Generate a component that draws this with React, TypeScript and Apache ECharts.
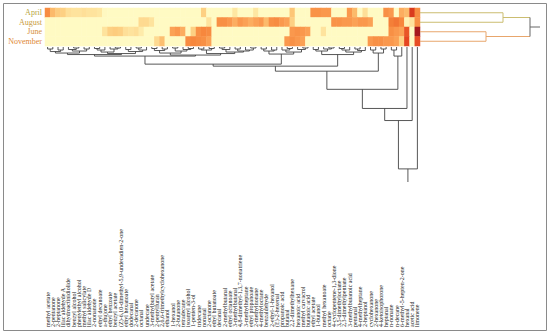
import React, { useEffect, useRef } from 'react';
import * as echarts from 'echarts';

const months = ['April', 'August', 'June', 'November'];
const monthColors = ['#b8a640', '#c99c3e', '#d6913a', '#e08836'];

const compounds = [
  'methyl acetate', '2-pentanone', '2-heptanone', 'lilac aldehyde A', 'dihydroactinidiolide',
  'benzyl alcohol', 'phenylethyl alcohol', 'methyl salicylate', 'lilac aldehyde D', '2-nonanone',
  'ethyl decanoate', 'a-thujone', 'ethyl benzoate', 'benzyl acetate', '(Z)-6,10-dimethyl-5,9-undecadien-2-one',
  'ethyl hexanoate', 'dodecanal', '2-decanone', 'octanal', 'undecane',
  '3-methylbutyl acetate', '2-pentylfuran', '2,6,6-trimethylcyclohexanone', 'ethanol', '1-hexanol',
  '2-butanone', 'tetradecane', 'isoamyl alcohol', '1-penten-3-ol', 'tridecane',
  'nonanal', '2-octanone', 'ethyl butanoate', 'decanal', '2-methylbutanal',
  'ethyl octanoate', '3-methylbutanal', '4,8-dimethyl-1,3,7-nonatriene', '3-methylheptane', 'ethyl propanoate',
  '2-methylnonane', '4-methyloctane', 'benzaldehyde', '2-ethyl-1-hexanol', '(E)-2-hexenal',
  'propanoic acid', 'butanal', '2,2-dimethylhexane', 'hexanoic acid', 'methyl carvacrol',
  'butanoic acid', 'ethyl acetate', '1-butanol', 'methyl hexanoate', 'octane',
  '4-cyclopentene-1,3-dione', '3,5-dimethyloctane', '2,3-dimethylpentane', '3-methylbutanoic acid', 'pentanal',
  '4-methylheptane', '2-heptanol', 'cyclohexanone', '2-hexanone', '4-ketoisophorone',
  'heptanal', 'n-nonane', 'n-decane', '6-methyl-5-hepten-2-one', 'hexanal',
  'acetic acid', 'limonene',
];

const april = [
  0.62, 0.4, 0.32, 0.3, 0.22, 0.2, 0.2, 0.22, 0.2, 0.2,
  0.18, 0.05, 0.04, 0.04, 0.04, 0.04, 0.04, 0.04, 0.04, 0.04,
  0.04, 0.04, 0.04, 0.04, 0.04, 0.04, 0.04, 0.04, 0.04, 0.04,
  0.3, 0.04, 0.04, 0.04, 0.04, 0.04, 0.18, 0.04, 0.04, 0.04,
  0.18, 0.04, 0.04, 0.04, 0.04, 0.04, 0.04, 0.35, 0.04, 0.04,
  0.04, 0.58, 0.58, 0.55, 0.55, 0.04, 0.04, 0.04, 0.55, 0.4,
  0.04, 0.22, 0.04, 0.04, 0.04, 0.6, 0.55, 0.04, 0.45, 0.4,
  0.85, 0.62,
];
const august = [
  0.04, 0.04, 0.04, 0.04, 0.04, 0.04, 0.04, 0.04, 0.04, 0.04,
  0.04, 0.04, 0.04, 0.04, 0.04, 0.04, 0.04, 0.04, 0.25, 0.25,
  0.2, 0.04, 0.04, 0.04, 0.04, 0.04, 0.04, 0.04, 0.04, 0.04,
  0.04, 0.2, 0.04, 0.6, 0.6, 0.55, 0.45, 0.55, 0.5, 0.45,
  0.5, 0.55, 0.4, 0.6, 0.62, 0.55, 0.5, 0.3, 0.04, 0.04,
  0.04, 0.04, 0.04, 0.04, 0.04, 0.58, 0.58, 0.55, 0.55, 0.5,
  0.55, 0.55, 0.5, 0.04, 0.04, 0.04, 0.68, 0.7, 0.65, 0.1,
  0.2, 0.6,
];
const june = [
  0.04, 0.04, 0.04, 0.04, 0.04, 0.04, 0.04, 0.04, 0.04, 0.04,
  0.04, 0.2, 0.3, 0.32, 0.3, 0.22, 0.2, 0.22, 0.15, 0.04,
  0.04, 0.04, 0.04, 0.04, 0.5, 0.55, 0.45, 0.04, 0.3, 0.6,
  0.65, 0.62, 0.04, 0.04, 0.04, 0.04, 0.04, 0.04, 0.04, 0.04,
  0.04, 0.04, 0.04, 0.04, 0.04, 0.04, 0.04, 0.55, 0.58, 0.55,
  0.5, 0.04, 0.04, 0.2, 0.04, 0.04, 0.04, 0.04, 0.04, 0.04,
  0.04, 0.04, 0.04, 0.04, 0.04, 0.04, 0.6, 0.55, 0.5, 0.78,
  0.04, 0.95,
];
const november = [
  0.04, 0.04, 0.04, 0.04, 0.04, 0.04, 0.04, 0.04, 0.04, 0.04,
  0.04, 0.04, 0.04, 0.04, 0.04, 0.04, 0.04, 0.04, 0.04, 0.04,
  0.04, 0.25, 0.38, 0.04, 0.04, 0.04, 0.04, 0.62, 0.65, 0.62,
  0.6, 0.5, 0.04, 0.04, 0.04, 0.04, 0.04, 0.04, 0.04, 0.04,
  0.04, 0.04, 0.04, 0.04, 0.04, 0.04, 0.55, 0.6, 0.55, 0.5,
  0.04, 0.04, 0.04, 0.04, 0.04, 0.04, 0.04, 0.04, 0.04, 0.04,
  0.04, 0.04, 0.55, 0.6, 0.6, 0.55, 0.55, 0.5, 0.3, 0.82,
  0.04, 0.8,
];
const rowValues = [april, august, june, november];

// column dendrogram: leaf = column index, node = [left, right, mergeHeight]
const cA = [[0, 1, 2], [2, 3, 3], 4.5];
const cB = [[4, [5, 6, 1], 2.5], [7, 8, 2], 4];
const cC = [[[9, 10, 1.5], 11, 3], [12, [13, 14, 1], 2], 5];
const cD = [[15, 16, 2.5], [[17, 18, 1], 19, 3], 4.5];
const cE = [[[20, 21, 1.5], [22, 23, 2], 3.5], [[24, 25, 1], [26, [27, 28, 1.5], 2.5], 4], 6];
const cF = [[[29, 30, 2], [31, 32, 1.5], 3], [[[33, 34, 1], 35, 2.5], [[36, 37, 2], [38, [39, 40, 1], 3], 4], 5], 6.5];
const cG = [[[41, 42, 2], [43, 44, 3], 4], [[45, [46, 47, 1.5], 3], [48, [49, 50, 1], 2.5], 5], 7];
const cH = [[[51, 52, 2.5], [53, [54, 55, 1], 2], 4], [[[56, 57, 1.5], 58, 3], [[59, 60, 2], 61, 3.5], 5], 7.5];
const cI = [[62, 63, 3], [64, 65, 2], 6];
const cJ = [[66, 67, 3], 68, 9];
const g1 = [[cA, cB, 6], [cC, cD, 6.5], 7.5];
const g2 = [cE, cF, 8];
const m1 = [g1, g2, 9];
const m2 = [m1, cG, 17];
const m3 = [m2, cH, 19];
const mB = [m3, cI, 24];
const mC = [mB, cJ, 42];
const colTree = [[[mC, 69, 61], 70, 73], 71, 121];
const colStub = 134;

// row dendrogram
const rowTree = [[0, 1, 83], [2, 3, 66], 110];
const rowStub = 120;
const rowBranchColors = ['#cbbd70', '#e8a66c', '#666666'];

type Seg = number[];
function layout(node: any, color: number, segs: Seg[]): { p: number; h: number } {
  if (typeof node === 'number') return { p: node, h: 0 };
  const [l, r, h] = node;
  const a = layout(l, color, segs);
  const b = layout(r, color, segs);
  segs.push([a.p, a.h, a.p, h, color], [b.p, b.h, b.p, h, color], [a.p, h, b.p, h, color]);
  return { p: (a.p + b.p) / 2, h };
}

export default function App() {
  const ref = useRef<HTMLDivElement>(null);
  useEffect(() => {
    if (!ref.current) return;
    const chart = echarts.init(ref.current, null, { renderer: 'svg' });

    const heatData: number[][] = [];
    rowValues.forEach((vals, r) => vals.forEach((v, c) => heatData.push([c, r, v])));

    const colSegs: Seg[] = [];
    const cr = layout(colTree, 0, colSegs);
    colSegs.push([cr.p, cr.h, cr.p, colStub, 0]);

    const rowSegs: Seg[] = [];
    const r0 = layout(rowTree[0], 0, rowSegs);
    const r1 = layout(rowTree[1], 1, rowSegs);
    const rh = rowTree[2] as number;
    rowSegs.push([r0.p, r0.h, r0.p, rh, 0], [r1.p, r1.h, r1.p, rh, 1], [r0.p, rh, r1.p, rh, 2]);
    const rmid = (r0.p + r1.p) / 2;
    rowSegs.push([rmid, rh, rmid, rowStub, 2]);

    const N = compounds.length;

    chart.setOption({
      animation: false,
      backgroundColor: '#ffffff',
      graphic: [
        {
          type: 'rect',
          shape: { x: 3.5, y: 3.5, width: 543, height: 327 },
          style: { fill: 'none', stroke: '#8a8a8a', lineWidth: 1 },
          silent: true,
        },
      ],
      grid: [
        { left: 45, top: 8, width: 375, height: 38 },
        { left: 45, top: 47, width: 375, height: 135 },
        { left: 420, top: 8, width: 120, height: 38 },
        { left: 45, top: 328, width: 375, height: 1 },
      ],
      xAxis: [
        { type: 'category', gridIndex: 0, data: compounds, show: false },
        { type: 'value', gridIndex: 1, min: -0.5, max: N - 0.5, show: false },
        { type: 'value', gridIndex: 2, min: 0, max: 120, show: false },
        {
          type: 'category', gridIndex: 3, data: compounds, position: 'top',
          axisLine: { show: false }, axisTick: { show: false },
          axisLabel: {
            rotate: 90, interval: 0, fontSize: 6, fontFamily: 'Liberation Serif',
            color: '#222', margin: 1,
          },
        },
      ],
      yAxis: [
        {
          type: 'category', gridIndex: 0, data: months, inverse: true,
          axisLine: { show: false }, axisTick: { show: false },
          axisLabel: {
            interval: 0, fontSize: 8, fontFamily: 'Liberation Serif', margin: 3,
            color: (_v: any, i: number) => monthColors[i],
          },
        },
        { type: 'value', gridIndex: 1, min: 0, max: colStub, inverse: true, show: false },
        { type: 'value', gridIndex: 2, min: -0.5, max: 3.5, inverse: true, show: false },
        { type: 'value', gridIndex: 3, show: false },
      ],
      visualMap: {
        show: false, seriesIndex: 0, min: 0, max: 1, dimension: 2,
        inRange: { color: ['#ffffcc', '#fee9a6', '#fdca7a', '#fba155', '#f6843a', '#e3401e', '#8b0a1e'] },
      },
      series: [
        {
          type: 'heatmap', xAxisIndex: 0, yAxisIndex: 0, data: heatData,
          itemStyle: { borderWidth: 0 },
          emphasis: { disabled: true },
        },
        {
          type: 'custom', xAxisIndex: 1, yAxisIndex: 1, data: colSegs,
          encode: { x: [0, 2], y: [1, 3] },
          clip: false,
          renderItem: (_p: any, api: any) => {
            const a = api.coord([api.value(0), api.value(1)]);
            const b = api.coord([api.value(2), api.value(3)]);
            return {
              type: 'line',
              shape: { x1: a[0], y1: a[1], x2: b[0], y2: b[1] },
              style: { stroke: '#444444', lineWidth: 0.9 },
            };
          },
        },
        {
          type: 'custom', xAxisIndex: 2, yAxisIndex: 2, data: rowSegs,
          encode: { x: [1, 3], y: [0, 2] },
          clip: false,
          renderItem: (_p: any, api: any) => {
            const a = api.coord([api.value(1), api.value(0)]);
            const b = api.coord([api.value(3), api.value(2)]);
            return {
              type: 'line',
              shape: { x1: a[0], y1: a[1], x2: b[0], y2: b[1] },
              style: { stroke: rowBranchColors[api.value(4)], lineWidth: 1 },
            };
          },
        },
      ],
    });
    return () => chart.dispose();
  }, []);
  return (
    <div
      ref={ref}
      style={{ position: 'absolute', left: 0, top: 0, width: 550, height: 333, background: '#fff' }}
    />
  );
}
